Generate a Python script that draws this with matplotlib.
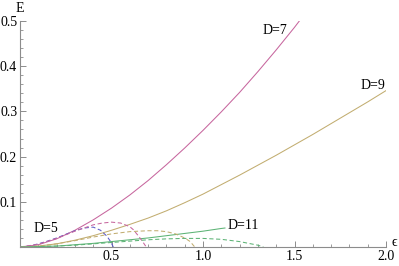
import numpy as np
import matplotlib
matplotlib.use('Agg')
import matplotlib.pyplot as plt
from matplotlib.ticker import MultipleLocator

plt.rcParams['font.family'] = ['Liberation Serif', 'DejaVu Serif']

# 实线 (solid) D=7, D=9, D=11
eps_d7 = [0.0, 0.1, 0.2, 0.3, 0.4, 0.5, 0.6, 0.7, 0.8, 0.9, 1.0, 1.1, 1.2, 1.3, 1.4, 1.5, 1.6]
E_d7 = [0.0, 0.005, 0.018, 0.037, 0.060, 0.086, 0.115, 0.147, 0.182, 0.219, 0.258,
        0.299, 0.342, 0.388, 0.436, 0.486, 0.539]

eps_d9 = [0.0, 0.1, 0.2, 0.3, 0.4, 0.5, 0.6, 0.7, 0.8, 0.9, 1.0,
          1.1, 1.2, 1.3, 1.4, 1.5, 1.6, 1.7, 1.8, 1.9, 2.0]
E_d9 = [0.0, 0.002, 0.007, 0.015, 0.025, 0.037, 0.050, 0.064, 0.080, 0.098, 0.117,
        0.138, 0.159, 0.181, 0.203, 0.226, 0.249, 0.273, 0.297, 0.321, 0.346]

eps_d11 = [0.0, 0.1, 0.2, 0.3, 0.4, 0.5, 0.6, 0.7, 0.8, 0.9, 1.0, 1.1, 1.12]
E_d11 = [0.0, 0.001, 0.002, 0.005, 0.008, 0.012, 0.016, 0.020, 0.025, 0.030, 0.035, 0.041, 0.042]

# 虚线 (dashed) D=5, D=7, D=9, D=11
eps_d5_dash = [0.0, 0.05, 0.1, 0.15, 0.2, 0.25, 0.3, 0.35, 0.4, 0.44, 0.475, 0.495, 0.51]
E_d5_dash = [0.0, 0.002, 0.007, 0.013, 0.020, 0.028, 0.036, 0.042, 0.044, 0.037, 0.024, 0.012, 0.0]

eps_d7_dash = [0.0, 0.1, 0.2, 0.3, 0.35, 0.4, 0.45, 0.5, 0.55, 0.6, 0.62, 0.65, 0.67, 0.69]
E_d7_dash = [0.0, 0.006, 0.019, 0.035, 0.042, 0.049, 0.053, 0.055, 0.053, 0.045, 0.038, 0.023, 0.012, 0.0]

eps_d9_dash = [0.0, 0.1, 0.2, 0.3, 0.4, 0.5, 0.6, 0.7, 0.75, 0.8, 0.85, 0.9, 0.93, 0.955]
E_d9_dash = [0.0, 0.002, 0.007, 0.014, 0.022, 0.029, 0.034, 0.036, 0.036, 0.034, 0.029, 0.020, 0.012, 0.0]

eps_d11_dash = [0.0, 0.1, 0.2, 0.3, 0.4, 0.5, 0.6, 0.7, 0.8, 0.9, 1.0, 1.1, 1.2, 1.3, 1.33]
E_d11_dash = [0.0, 0.001, 0.002, 0.004, 0.007, 0.010, 0.013, 0.016, 0.018, 0.019, 0.019,
              0.017, 0.012, 0.004, 0.0]

c_blue = (0.35, 0.35, 0.78)
c_mag = (0.78, 0.40, 0.62)
c_olive = (0.76, 0.68, 0.44)
c_green = (0.36, 0.70, 0.46)

fig = plt.figure(figsize=(3.99, 2.66), dpi=100)
ax = fig.add_axes([20 / 399, 1 - 247 / 266, 366 / 399, 226 / 266])

lw = 0.75
dash = (0, (4, 2.5))
ax.plot(eps_d7, E_d7, color=c_mag, lw=lw)
ax.plot(eps_d9, E_d9, color=c_olive, lw=lw)
ax.plot(eps_d11, E_d11, color=c_green, lw=lw)
ax.plot(eps_d5_dash, E_d5_dash, color=c_blue, lw=lw, ls=dash)
ax.plot(eps_d7_dash, E_d7_dash, color=c_mag, lw=lw, ls=dash)
ax.plot(eps_d9_dash, E_d9_dash, color=c_olive, lw=lw, ls=dash)
ax.plot(eps_d11_dash, E_d11_dash, color=c_green, lw=lw, ls=dash)

ax.set_xlim(0, 2.0)
ax.set_ylim(0, 0.5)

for s in ['top', 'right']:
    ax.spines[s].set_visible(False)
for s in ['left', 'bottom']:
    ax.spines[s].set_color('0.55')
    ax.spines[s].set_linewidth(0.8)

ax.xaxis.set_minor_locator(MultipleLocator(0.1))
ax.yaxis.set_minor_locator(MultipleLocator(0.02))
ax.set_xticks([0.5, 1.0, 1.5, 2.0])
ax.set_xticklabels(['0.5', '1.0', '1.5', '2.0'])
ax.set_yticks([0.1, 0.2, 0.3, 0.4, 0.5])
ax.set_yticklabels(['0.1', '0.2', '0.3', '0.4', '0.5'])
ax.tick_params(which='both', direction='in', color='0.55', labelsize=10, pad=2)
ax.tick_params(which='major', length=4, width=0.7)
ax.tick_params(which='minor', length=2, width=0.6)

fig.text(20 / 399, 1 - 8 / 266, 'E', ha='center', va='center', fontsize=10)
fig.text(394 / 399, 1 - 243 / 266, 'ϵ', ha='center', va='center', fontsize=10)

ax.text(1.395, 0.478, 'D=7', ha='center', va='center', fontsize=10)
ax.text(1.93, 0.358, 'D=9', ha='center', va='center', fontsize=10)
ax.text(1.22, 0.048, 'D=11', ha='center', va='center', fontsize=10)
ax.text(0.142, 0.04, 'D=5', ha='center', va='center', fontsize=10)

plt.savefig('out.png', dpi=100)
